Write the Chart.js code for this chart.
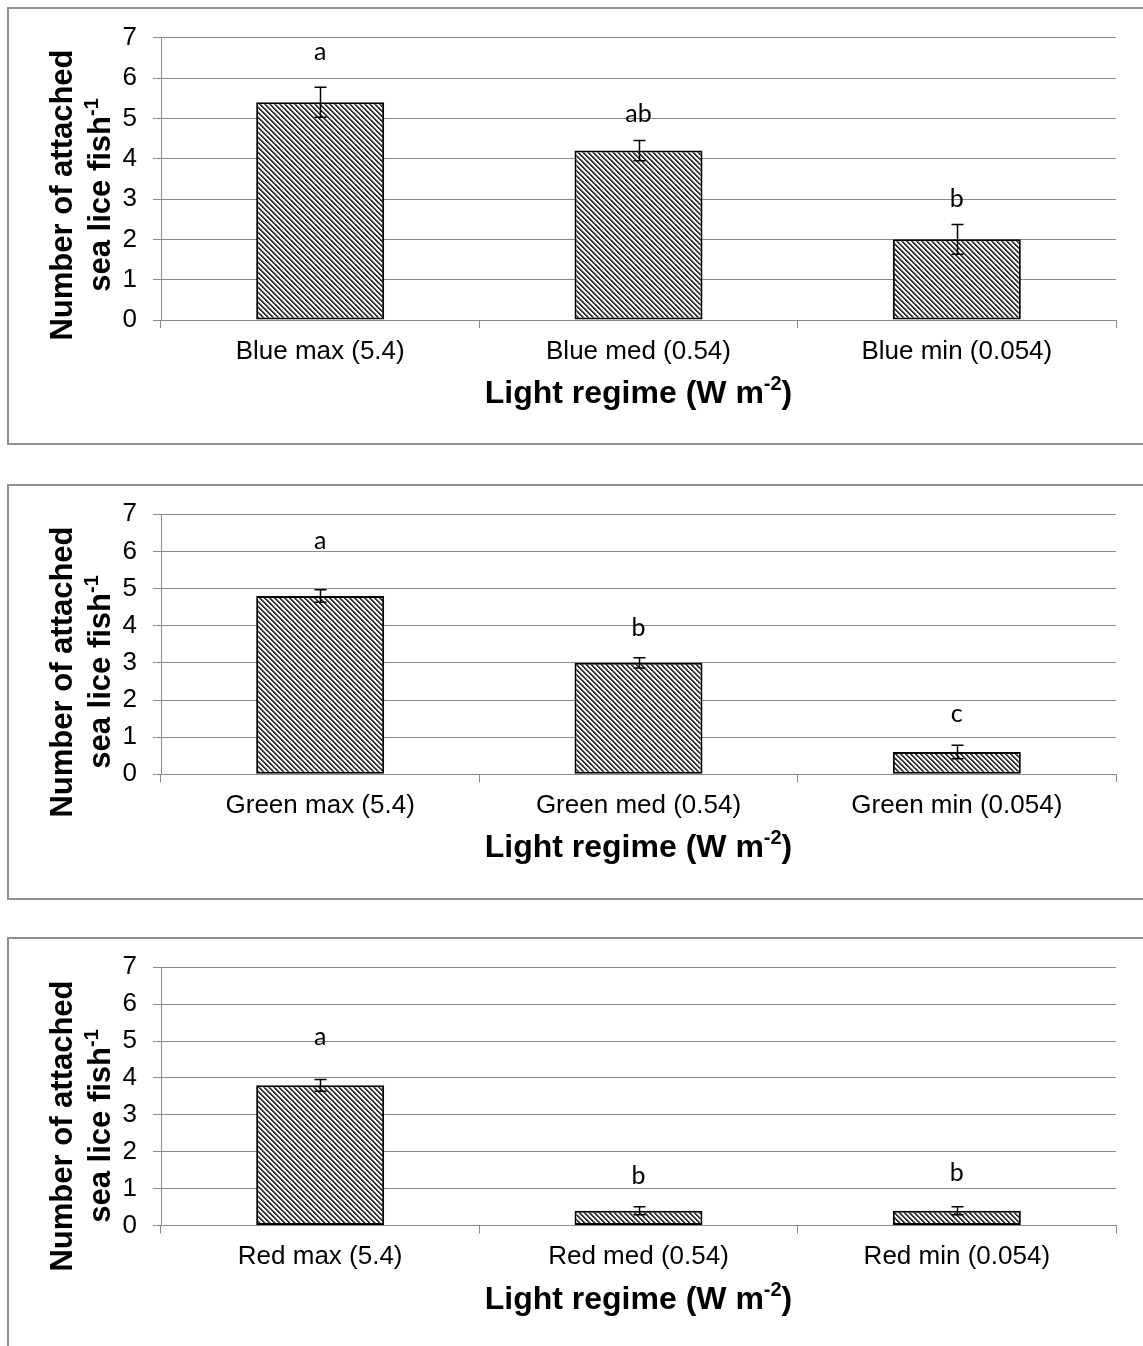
<!DOCTYPE html>
<html><head><meta charset="utf-8">
<script src="https://cdn.jsdelivr.net/npm/chart.js@4"></script>
<style>
body{margin:0;background:#fff;width:1143px;height:1346px;overflow:hidden;position:relative;}
canvas{position:absolute;left:0;}
.box{position:absolute;left:7px;border:2px solid #8f8f8f;width:1300px;box-sizing:border-box;}
</style></head><body>
<div class="box" style="top:7px;height:438px"></div>
<div class="box" style="top:484px;height:416px"></div>
<div class="box" style="top:937px;height:500px"></div>
<canvas id="c1" width="1143" height="444" style="top:0px"></canvas>
<canvas id="c2" width="1143" height="455" style="top:444px"></canvas>
<canvas id="c3" width="1143" height="447" style="top:899px"></canvas>
<script>
// ---- data ----
const categoriesBlue = ['Blue max (5.4)', 'Blue med (0.54)', 'Blue min (0.054)'];
const categoriesGreen = ['Green max (5.4)', 'Green med (0.54)', 'Green min (0.054)'];
const categoriesRed = ['Red max (5.4)', 'Red med (0.54)', 'Red min (0.054)'];

const meansBlue = [5.4, 4.2, 2.0];
const errorsBlue = [0.37, 0.25, 0.37];
const lettersBlue = ['a', 'ab', 'b'];
const letterValueBlue = [6.6, 5.06, 2.95];

const meansGreen = [4.8, 3.0, 0.6];
const errorsGreen = [0.17, 0.14, 0.18];
const lettersGreen = ['a', 'b', 'c'];
const letterValueGreen = [6.23, 3.89, 1.57];

const meansRed = [3.8, 0.4, 0.4];
const errorsRed = [0.16, 0.11, 0.11];
const lettersRed = ['a', 'b', 'b'];
const letterValueRed = [5.05, 1.29, 1.37];

const yMin = 0, yMax = 7, yStep = 1;
const yTitleLine1 = 'Number of attached';
const yTitleLine2 = 'sea lice fish';
const yTitleSup = '-1';
const xTitleMain = 'Light regime (W m';
const xTitleSup = '-2';
const xTitleEnd = ')';

// ---- styling / layout ----
const SANS = '"Liberation Sans", Arial, sans-serif';
const GRID = '#8a8a8a';
const PAGE_W = 1143;
const PLOT_LEFT = 161, PLOT_RIGHT = 1116;

function makePattern() {
  const c = document.createElement('canvas');
  c.width = 5; c.height = 5;
  const g = c.getContext('2d');
  g.fillStyle = '#ffffff'; g.fillRect(0, 0, 5, 5);
  for (let y = 0; y < 5; y++) {
    g.fillStyle = '#333333';
    g.fillRect((y) % 5, y, 1, 1);
    g.fillRect((y + 1) % 5, y, 1, 1);
    g.fillStyle = '#a5a5a5';
    g.fillRect((y + 2) % 5, y, 1, 1);
  }
  return c;
}

function drawRotatedTitle(ctx, baseX, centerY, main, sup) {
  ctx.save();
  ctx.translate(baseX, centerY);
  ctx.rotate(-Math.PI / 2);
  ctx.fillStyle = '#000';
  ctx.textBaseline = 'alphabetic';
  ctx.textAlign = 'left';
  const mf = 'bold 31px ' + SANS, sf = 'bold 20px ' + SANS;
  ctx.font = mf; const w1 = ctx.measureText(main).width;
  let w2 = 0;
  if (sup) { ctx.font = sf; w2 = ctx.measureText(sup).width; }
  const start = -(w1 + w2) / 2;
  ctx.font = mf; ctx.fillText(main, start, 0);
  if (sup) { ctx.font = sf; ctx.fillText(sup, start + w1, -12); }
  ctx.restore();
}

function buildChart(id, cfg) {
  const canvas = document.getElementById(id);
  const ctx = canvas.getContext('2d');
  const pattern = ctx.createPattern(makePattern(), 'repeat');
  const xHeight = cfg.H - cfg.chartBottom;

  const overlay = {
    id: 'overlay_' + id,
    afterDatasetsDraw(chart) {
      const c = chart.ctx;
      const ys = chart.scales.y;
      const meta = chart.getDatasetMeta(0);
      c.save();
      meta.data.forEach((bar, i) => {
        const x = Math.round(bar.x) + 0.5;
        const yT = ys.getPixelForValue(cfg.means[i] + cfg.errors[i]);
        const yB = ys.getPixelForValue(cfg.means[i] - cfg.errors[i]);
        c.strokeStyle = '#000';
        c.lineWidth = 1.5;
        c.beginPath();
        c.moveTo(x, yT); c.lineTo(x, yB);
        c.moveTo(x - 6, yT); c.lineTo(x + 6, yT);
        c.moveTo(x - 6, yB); c.lineTo(x + 6, yB);
        c.stroke();
        // significance letters
        c.fillStyle = '#000';
        c.font = '25px Lato, "Open Sans", sans-serif';
        c.textAlign = 'center';
        c.textBaseline = 'alphabetic';
        c.fillText(cfg.letters[i], bar.x, ys.getPixelForValue(cfg.letterValues[i]) + 6);
      });
      c.restore();
    },
    afterDraw(chart) {
      const c = chart.ctx;
      const a = chart.chartArea;
      drawRotatedTitle(c, 72, cfg.yTitleCY, yTitleLine1, '');
      drawRotatedTitle(c, 110, cfg.yTitleCY, yTitleLine2, yTitleSup);
      // x title
      c.save();
      c.fillStyle = '#000';
      c.textBaseline = 'alphabetic';
      c.textAlign = 'left';
      const mf = 'bold 32px ' + SANS, sf = 'bold 20px ' + SANS;
      c.font = mf; const w1 = c.measureText(xTitleMain).width; const w3 = c.measureText(xTitleEnd).width;
      c.font = sf; const w2 = c.measureText(xTitleSup).width;
      let x0 = (a.left + a.right) / 2 - (w1 + w2 + w3) / 2;
      const by = a.bottom + 83;
      c.font = mf; c.fillText(xTitleMain, x0, by);
      c.font = sf; c.fillText(xTitleSup, x0 + w1, by - 13);
      c.font = mf; c.fillText(xTitleEnd, x0 + w1 + w2, by);
      c.restore();
    }
  };

  return new Chart(canvas, {
    type: 'bar',
    data: {
      labels: cfg.labels,
      datasets: [{
        data: cfg.means,
        backgroundColor: pattern,
        borderColor: '#000',
        borderWidth: 2,
        borderSkipped: false,
        categoryPercentage: 1.0,
        barPercentage: 0.402
      }]
    },
    options: {
      responsive: false,
      animation: false,
      devicePixelRatio: 1,
      events: [],
      layout: { padding: { left: 0, right: PAGE_W - PLOT_RIGHT, top: cfg.chartTop, bottom: 0 } },
      plugins: { legend: { display: false }, tooltip: { enabled: false }, title: { display: false } },
      scales: {
        x: {
          offset: true,
          grid: { display: true, drawOnChartArea: false, drawTicks: true, tickLength: 8, color: GRID, lineWidth: 1, offset: true },
          border: { display: true, color: GRID, width: 1 },
          ticks: { color: '#000', font: { family: SANS, size: 26 }, padding: 8, maxRotation: 0, minRotation: 0, autoSkip: false },
          afterFit(s) { s.height = xHeight; s.paddingLeft = 0; s.paddingRight = 0; }
        },
        y: {
          min: yMin, max: yMax,
          grid: { color: GRID, lineWidth: 1, drawTicks: true, tickLength: 8 },
          border: { display: true, color: GRID, width: 1 },
          ticks: { stepSize: yStep, color: '#000', font: { family: SANS, size: 26 }, padding: 16 },
          afterFit(s) { s.width = PLOT_LEFT; s.paddingTop = 0; s.paddingBottom = 0; }
        }
      }
    },
    plugins: [overlay]
  });
}

buildChart('c1', { H: 444, chartTop: 37.7, chartBottom: 320, yTitleCY: 195,
  labels: categoriesBlue, means: meansBlue, errors: errorsBlue, letters: lettersBlue, letterValues: letterValueBlue });
buildChart('c2', { H: 455, chartTop: 70.3, chartBottom: 330.3, yTitleCY: 228,
  labels: categoriesGreen, means: meansGreen, errors: errorsGreen, letters: lettersGreen, letterValues: letterValueGreen });
buildChart('c3', { H: 447, chartTop: 68.3, chartBottom: 326.5, yTitleCY: 227,
  labels: categoriesRed, means: meansRed, errors: errorsRed, letters: lettersRed, letterValues: letterValueRed });
</script>
</body></html>
